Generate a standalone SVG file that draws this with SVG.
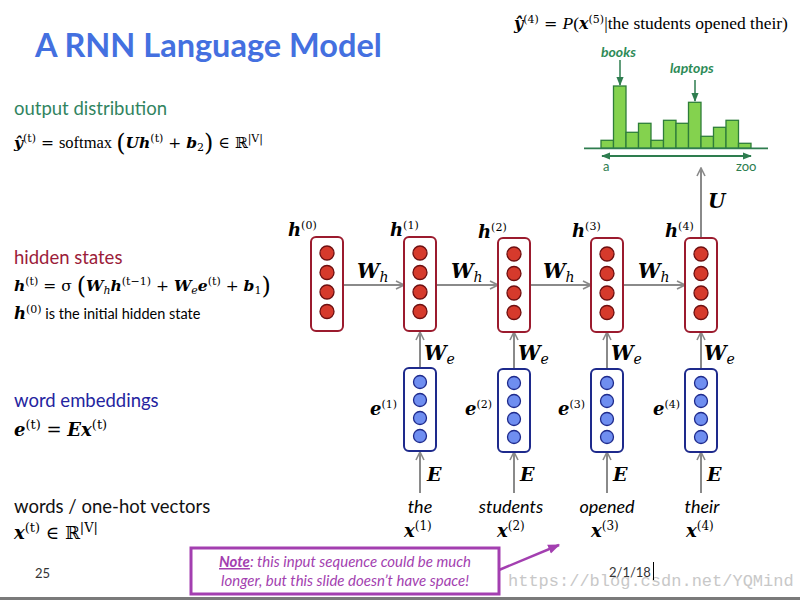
<svg xmlns="http://www.w3.org/2000/svg" width="800" height="600" viewBox="0 0 800 600">
<defs>
<style>
.sans{font-family:Lato,"Open Sans","Liberation Sans",sans-serif}
.math{font-family:"DejaVu Serif","Liberation Serif",serif;fill:#000}
.rm{font-family:"Liberation Serif","DejaVu Serif",serif}
.v{font-weight:bold;font-style:italic}
.conn line{stroke:#8a8a8a;stroke-width:2;fill:none}
.hbox{fill:#fff;stroke:#9b1b2e;stroke-width:2}
.hc{fill:#d63a2c;stroke:#6e0f10;stroke-width:1.3}
.ebox{fill:#fff;stroke:#1e2a8c;stroke-width:2}
.ec{fill:#6f8ef0;stroke:#1e2a8c;stroke-width:1.3}
.bar{fill:#84d24e;stroke:#2e7d3a;stroke-width:1.3}
.hl{font-size:18px}
.sup{font-size:11px}
.word{font-family:Lato,"Open Sans","Liberation Sans",sans-serif;font-style:italic;font-size:18px;text-anchor:middle}
</style>
<marker id="ga" viewBox="0 0 10 10" refX="9" refY="5" markerWidth="10" markerHeight="10" markerUnits="userSpaceOnUse" orient="auto">
<path d="M1,1 L9,5 L1,9" fill="none" stroke="#8a8a8a" stroke-width="1.6"/>
</marker>
<marker id="gr" viewBox="0 0 10 10" refX="9" refY="5" markerWidth="9" markerHeight="9" markerUnits="userSpaceOnUse" orient="auto-start-reverse">
<path d="M0,1 L10,5 L0,9 z" fill="#2e7d4f"/>
</marker>
<marker id="pa" viewBox="0 0 10 10" refX="9" refY="5" markerWidth="12" markerHeight="12" markerUnits="userSpaceOnUse" orient="auto">
<path d="M0,1 L10,5 L0,9 z" fill="#a33fb0"/>
</marker>
</defs>
<rect width="800" height="600" fill="#fff"/>

<!-- Title -->
<text class="sans" x="35" y="57" font-size="32.5" font-weight="bold" fill="#4470e0">A RNN Language Model</text>

<!-- Left text -->
<text class="sans" x="14" y="115" font-size="18.5" fill="#31845f">output distribution</text>
<text class="math" x="14" y="148" font-size="15.5"><tspan class="v">ŷ</tspan><tspan class="sup" dy="-6">(t)</tspan><tspan dy="6"> = </tspan><tspan class="rm" font-size="16.5">softmax </tspan><tspan font-size="24" dy="3">(</tspan><tspan class="v" dy="-3">Uh</tspan><tspan class="sup" dy="-6">(t)</tspan><tspan dy="6"> + </tspan><tspan class="v">b</tspan><tspan class="sup" dy="3">2</tspan><tspan font-size="24" dy="0">)</tspan><tspan dy="-3"> ∈ ℝ</tspan><tspan class="sup" dy="-6">|V|</tspan></text>

<text class="sans" x="14" y="264" font-size="18.5" fill="#9b1c3a">hidden states</text>
<text class="math" x="14" y="291" font-size="15.5"><tspan class="v">h</tspan><tspan class="sup" dy="-6">(t)</tspan><tspan dy="6"> = σ </tspan><tspan font-size="24" dy="3">(</tspan><tspan class="v" dy="-3">W</tspan><tspan class="sup" font-style="italic" dy="3">h</tspan><tspan class="v" dy="-3">h</tspan><tspan class="sup" dy="-6">(t−1)</tspan><tspan dy="6"> + </tspan><tspan class="v">W</tspan><tspan class="sup" font-style="italic" dy="3">e</tspan><tspan class="v" dy="-3">e</tspan><tspan class="sup" dy="-6">(t)</tspan><tspan dy="6"> + </tspan><tspan class="v">b</tspan><tspan class="sup" dy="3">1</tspan><tspan font-size="24" dy="0">)</tspan></text>
<text x="14" y="319"><tspan class="math v" font-size="16.5">h</tspan><tspan class="math sup" font-size="12" dy="-6">(0)</tspan><tspan class="sans" font-size="14.5" dy="6"> is the initial hidden state</tspan></text>

<text class="sans" x="14" y="407" font-size="18.5" fill="#2424a0">word embeddings</text>
<text class="math" x="14" y="436" font-size="18"><tspan class="v">e</tspan><tspan font-size="13" dy="-7">(t)</tspan><tspan dy="7"> = </tspan><tspan class="v">Ex</tspan><tspan font-size="13" dy="-7">(t)</tspan></text>

<text class="sans" x="14" y="513" font-size="18.5" fill="#111">words / one-hot vectors</text>
<text class="math" x="14" y="539" font-size="18"><tspan class="v">x</tspan><tspan font-size="13" dy="-7">(t)</tspan><tspan dy="7"> ∈ ℝ</tspan><tspan font-size="13" dy="-7">|V|</tspan></text>

<!-- Top formula -->
<text class="math" x="514" y="29" font-size="16"><tspan class="v">ŷ</tspan><tspan class="sup" dy="-6">(4)</tspan><tspan dy="6"> = </tspan><tspan class="rm" font-size="17.5" font-style="italic">P</tspan><tspan class="rm" font-size="17.5">(</tspan><tspan class="v">x</tspan><tspan class="sup" dy="-6">(5)</tspan><tspan class="rm" font-size="17.5" dy="6">|the students opened their)</tspan></text>

<!-- Histogram -->
<g id="histogram">
<rect class="bar" x="601" y="140.3" width="12.5" height="8"/>
<rect class="bar" x="613.5" y="86" width="12.5" height="62.3"/>
<rect class="bar" x="626" y="132.3" width="12.5" height="16"/>
<rect class="bar" x="638.5" y="123.3" width="12.5" height="25"/>
<rect class="bar" x="651" y="140.3" width="12.5" height="8"/>
<rect class="bar" x="663.5" y="120.3" width="12.5" height="28"/>
<rect class="bar" x="676" y="123.3" width="12.5" height="25"/>
<rect class="bar" x="688.5" y="102.3" width="12.5" height="46"/>
<rect class="bar" x="701" y="136.3" width="12.5" height="12"/>
<rect class="bar" x="713.5" y="127.3" width="12.5" height="21"/>
<rect class="bar" x="726" y="120.3" width="12.5" height="28"/>
<rect class="bar" x="738.5" y="143.3" width="12.5" height="5"/>
<line x1="584" y1="148.3" x2="768" y2="148.3" stroke="#2e7d4f" stroke-width="1.8"/>
<line x1="602" y1="156" x2="751" y2="156" stroke="#2e7d4f" stroke-width="1.8" marker-start="url(#gr)" marker-end="url(#gr)"/>
<text class="sans" x="603" y="171" font-size="13" fill="#2e7d4f">a</text>
<text class="sans" x="736" y="171" font-size="13" fill="#2e7d4f">zoo</text>
<text class="sans" x="601" y="57" font-size="14" font-style="italic" font-weight="bold" fill="#2e8b57">books</text>
<line x1="620" y1="60" x2="620" y2="85" stroke="#2e7d4f" stroke-width="1.5" marker-end="url(#gr)"/>
<text class="sans" x="670" y="73" font-size="14" font-style="italic" font-weight="bold" fill="#2e8b57">laptops</text>
<line x1="695" y1="80" x2="695" y2="101" stroke="#2e7d4f" stroke-width="1.5" marker-end="url(#gr)"/>
</g>

<!-- Connectors -->
<g id="connectors" class="conn">
<line x1="343" y1="285" x2="404" y2="285" marker-end="url(#ga)"/>
<line x1="436" y1="285" x2="498" y2="285" marker-end="url(#ga)"/>
<line x1="530" y1="285" x2="591" y2="285" marker-end="url(#ga)"/>
<line x1="623" y1="285" x2="685" y2="285" marker-end="url(#ga)"/>
<line x1="701" y1="237" x2="701" y2="168" marker-end="url(#ga)"/>
<line x1="420" y1="368" x2="420" y2="332" marker-end="url(#ga)"/>
<line x1="514" y1="368" x2="514" y2="332" marker-end="url(#ga)"/>
<line x1="607" y1="368" x2="607" y2="332" marker-end="url(#ga)"/>
<line x1="701" y1="368" x2="701" y2="332" marker-end="url(#ga)"/>
<line x1="420" y1="493" x2="420" y2="452" marker-end="url(#ga)"/>
<line x1="514" y1="493" x2="514" y2="452" marker-end="url(#ga)"/>
<line x1="607" y1="493" x2="607" y2="452" marker-end="url(#ga)"/>
<line x1="701" y1="493" x2="701" y2="452" marker-end="url(#ga)"/>
</g>

<!-- Connector labels -->
<g id="edge-labels" class="math">
<text x="357" y="278" font-size="20"><tspan class="v">W</tspan><tspan font-style="italic" font-size="14" dy="4">h</tspan></text>
<text x="451" y="278" font-size="20"><tspan class="v">W</tspan><tspan font-style="italic" font-size="14" dy="4">h</tspan></text>
<text x="543" y="278" font-size="20"><tspan class="v">W</tspan><tspan font-style="italic" font-size="14" dy="4">h</tspan></text>
<text x="638" y="278" font-size="20"><tspan class="v">W</tspan><tspan font-style="italic" font-size="14" dy="4">h</tspan></text>
<text x="708" y="208" font-size="20" class="v">U</text>
<text x="424" y="360" font-size="20"><tspan class="v">W</tspan><tspan font-style="italic" font-size="14" dy="4">e</tspan></text>
<text x="518" y="360" font-size="20"><tspan class="v">W</tspan><tspan font-style="italic" font-size="14" dy="4">e</tspan></text>
<text x="611" y="360" font-size="20"><tspan class="v">W</tspan><tspan font-style="italic" font-size="14" dy="4">e</tspan></text>
<text x="704" y="360" font-size="20"><tspan class="v">W</tspan><tspan font-style="italic" font-size="14" dy="4">e</tspan></text>
<text x="427" y="481" font-size="19" class="v">E</text>
<text x="520" y="481" font-size="19" class="v">E</text>
<text x="613" y="481" font-size="19" class="v">E</text>
<text x="707" y="481" font-size="19" class="v">E</text>
</g>

<!-- Hidden nodes -->
<g id="h0">
<text class="math" x="288" y="236"><tspan class="v hl">h</tspan><tspan class="sup" font-size="12" dy="-7">(0)</tspan></text>
<rect class="hbox" x="311" y="237" width="32" height="94" rx="5"/>
<circle class="hc" cx="327" cy="253" r="7"/><circle class="hc" cx="327" cy="272.5" r="7"/><circle class="hc" cx="327" cy="292" r="7"/><circle class="hc" cx="327" cy="311.5" r="7"/>
</g>
<g id="h1">
<text class="math" x="390" y="236"><tspan class="v hl">h</tspan><tspan class="sup" font-size="12" dy="-7">(1)</tspan></text>
<rect class="hbox" x="404" y="237" width="32" height="94" rx="5"/>
<circle class="hc" cx="420" cy="253" r="7"/><circle class="hc" cx="420" cy="272.5" r="7"/><circle class="hc" cx="420" cy="292" r="7"/><circle class="hc" cx="420" cy="311.5" r="7"/>
</g>
<g id="h2">
<text class="math" x="478" y="238"><tspan class="v hl">h</tspan><tspan class="sup" font-size="12" dy="-7">(2)</tspan></text>
<rect class="hbox" x="498" y="238" width="32" height="94" rx="5"/>
<circle class="hc" cx="514" cy="254" r="7"/><circle class="hc" cx="514" cy="273.5" r="7"/><circle class="hc" cx="514" cy="293" r="7"/><circle class="hc" cx="514" cy="312.5" r="7"/>
</g>
<g id="h3">
<text class="math" x="572" y="237"><tspan class="v hl">h</tspan><tspan class="sup" font-size="12" dy="-7">(3)</tspan></text>
<rect class="hbox" x="591" y="238" width="32" height="94" rx="5"/>
<circle class="hc" cx="607" cy="254" r="7"/><circle class="hc" cx="607" cy="273.5" r="7"/><circle class="hc" cx="607" cy="293" r="7"/><circle class="hc" cx="607" cy="312.5" r="7"/>
</g>
<g id="h4">
<text class="math" x="665" y="237"><tspan class="v hl">h</tspan><tspan class="sup" font-size="12" dy="-7">(4)</tspan></text>
<rect class="hbox" x="685" y="238" width="32" height="94" rx="5"/>
<circle class="hc" cx="701" cy="254" r="7"/><circle class="hc" cx="701" cy="273.5" r="7"/><circle class="hc" cx="701" cy="293" r="7"/><circle class="hc" cx="701" cy="312.5" r="7"/>
</g>

<!-- Embedding nodes -->
<g id="e1">
<text class="math" x="370" y="415"><tspan class="v hl">e</tspan><tspan class="sup" font-size="12" dy="-7">(1)</tspan></text>
<rect class="ebox" x="404" y="368" width="32" height="83" rx="5"/>
<circle class="ec" cx="420" cy="382" r="6.5"/><circle class="ec" cx="420" cy="400" r="6.5"/><circle class="ec" cx="420" cy="418" r="6.5"/><circle class="ec" cx="420" cy="436" r="6.5"/>
</g>
<g id="e2">
<text class="math" x="465" y="415"><tspan class="v hl">e</tspan><tspan class="sup" font-size="12" dy="-7">(2)</tspan></text>
<rect class="ebox" x="498" y="369" width="32" height="83" rx="5"/>
<circle class="ec" cx="514" cy="383" r="6.5"/><circle class="ec" cx="514" cy="401" r="6.5"/><circle class="ec" cx="514" cy="419" r="6.5"/><circle class="ec" cx="514" cy="437" r="6.5"/>
</g>
<g id="e3">
<text class="math" x="558" y="415"><tspan class="v hl">e</tspan><tspan class="sup" font-size="12" dy="-7">(3)</tspan></text>
<rect class="ebox" x="591" y="369" width="32" height="83" rx="5"/>
<circle class="ec" cx="607" cy="383" r="6.5"/><circle class="ec" cx="607" cy="401" r="6.5"/><circle class="ec" cx="607" cy="419" r="6.5"/><circle class="ec" cx="607" cy="437" r="6.5"/>
</g>
<g id="e4">
<text class="math" x="653" y="415"><tspan class="v hl">e</tspan><tspan class="sup" font-size="12" dy="-7">(4)</tspan></text>
<rect class="ebox" x="685" y="369" width="32" height="83" rx="5"/>
<circle class="ec" cx="701" cy="383" r="6.5"/><circle class="ec" cx="701" cy="401" r="6.5"/><circle class="ec" cx="701" cy="419" r="6.5"/><circle class="ec" cx="701" cy="437" r="6.5"/>
</g>

<!-- Input words -->
<g id="x1"><text class="word" x="420" y="513">the</text><text class="math" x="404" y="537"><tspan class="v hl">x</tspan><tspan font-size="12" dy="-7">(1)</tspan></text></g>
<g id="x2"><text class="word" x="511" y="513">students</text><text class="math" x="497" y="537"><tspan class="v hl">x</tspan><tspan font-size="12" dy="-7">(2)</tspan></text></g>
<g id="x3"><text class="word" x="607" y="513">opened</text><text class="math" x="591" y="537"><tspan class="v hl">x</tspan><tspan font-size="12" dy="-7">(3)</tspan></text></g>
<g id="x4"><text class="word" x="702" y="513">their</text><text class="math" x="686" y="537"><tspan class="v hl">x</tspan><tspan font-size="12" dy="-7">(4)</tspan></text></g>

<!-- Note -->
<g id="note">
<rect x="191" y="548" width="308" height="46" fill="#fff" stroke="#a33fb0" stroke-width="3"/>
<text class="sans" x="345" y="567" font-size="15" font-style="italic" fill="#a33fb0" text-anchor="middle"><tspan font-weight="bold" text-decoration="underline">Note</tspan>: this input sequence could be much</text>
<text class="sans" x="345" y="586" font-size="15" font-style="italic" fill="#a33fb0" text-anchor="middle">longer, but this slide doesn’t have space!</text>
<line x1="499" y1="570" x2="559" y2="545" stroke="#a33fb0" stroke-width="2.5" marker-end="url(#pa)"/>
</g>

<!-- Footer -->
<text class="sans" x="35" y="578" font-size="13" fill="#333">25</text>
<text x="508" y="586" font-family="'Liberation Mono','DejaVu Sans Mono',monospace" font-size="17" fill="#c8c8c8">https://blog.csdn.net/YQMind</text>
<text class="sans" x="609" y="577" font-size="13" fill="#333">2/1/18</text>
<line x1="653.5" y1="562" x2="653.5" y2="580" stroke="#000" stroke-width="1"/>
<rect x="0" y="597" width="800" height="3" fill="#7a7a7a"/>
</svg>
